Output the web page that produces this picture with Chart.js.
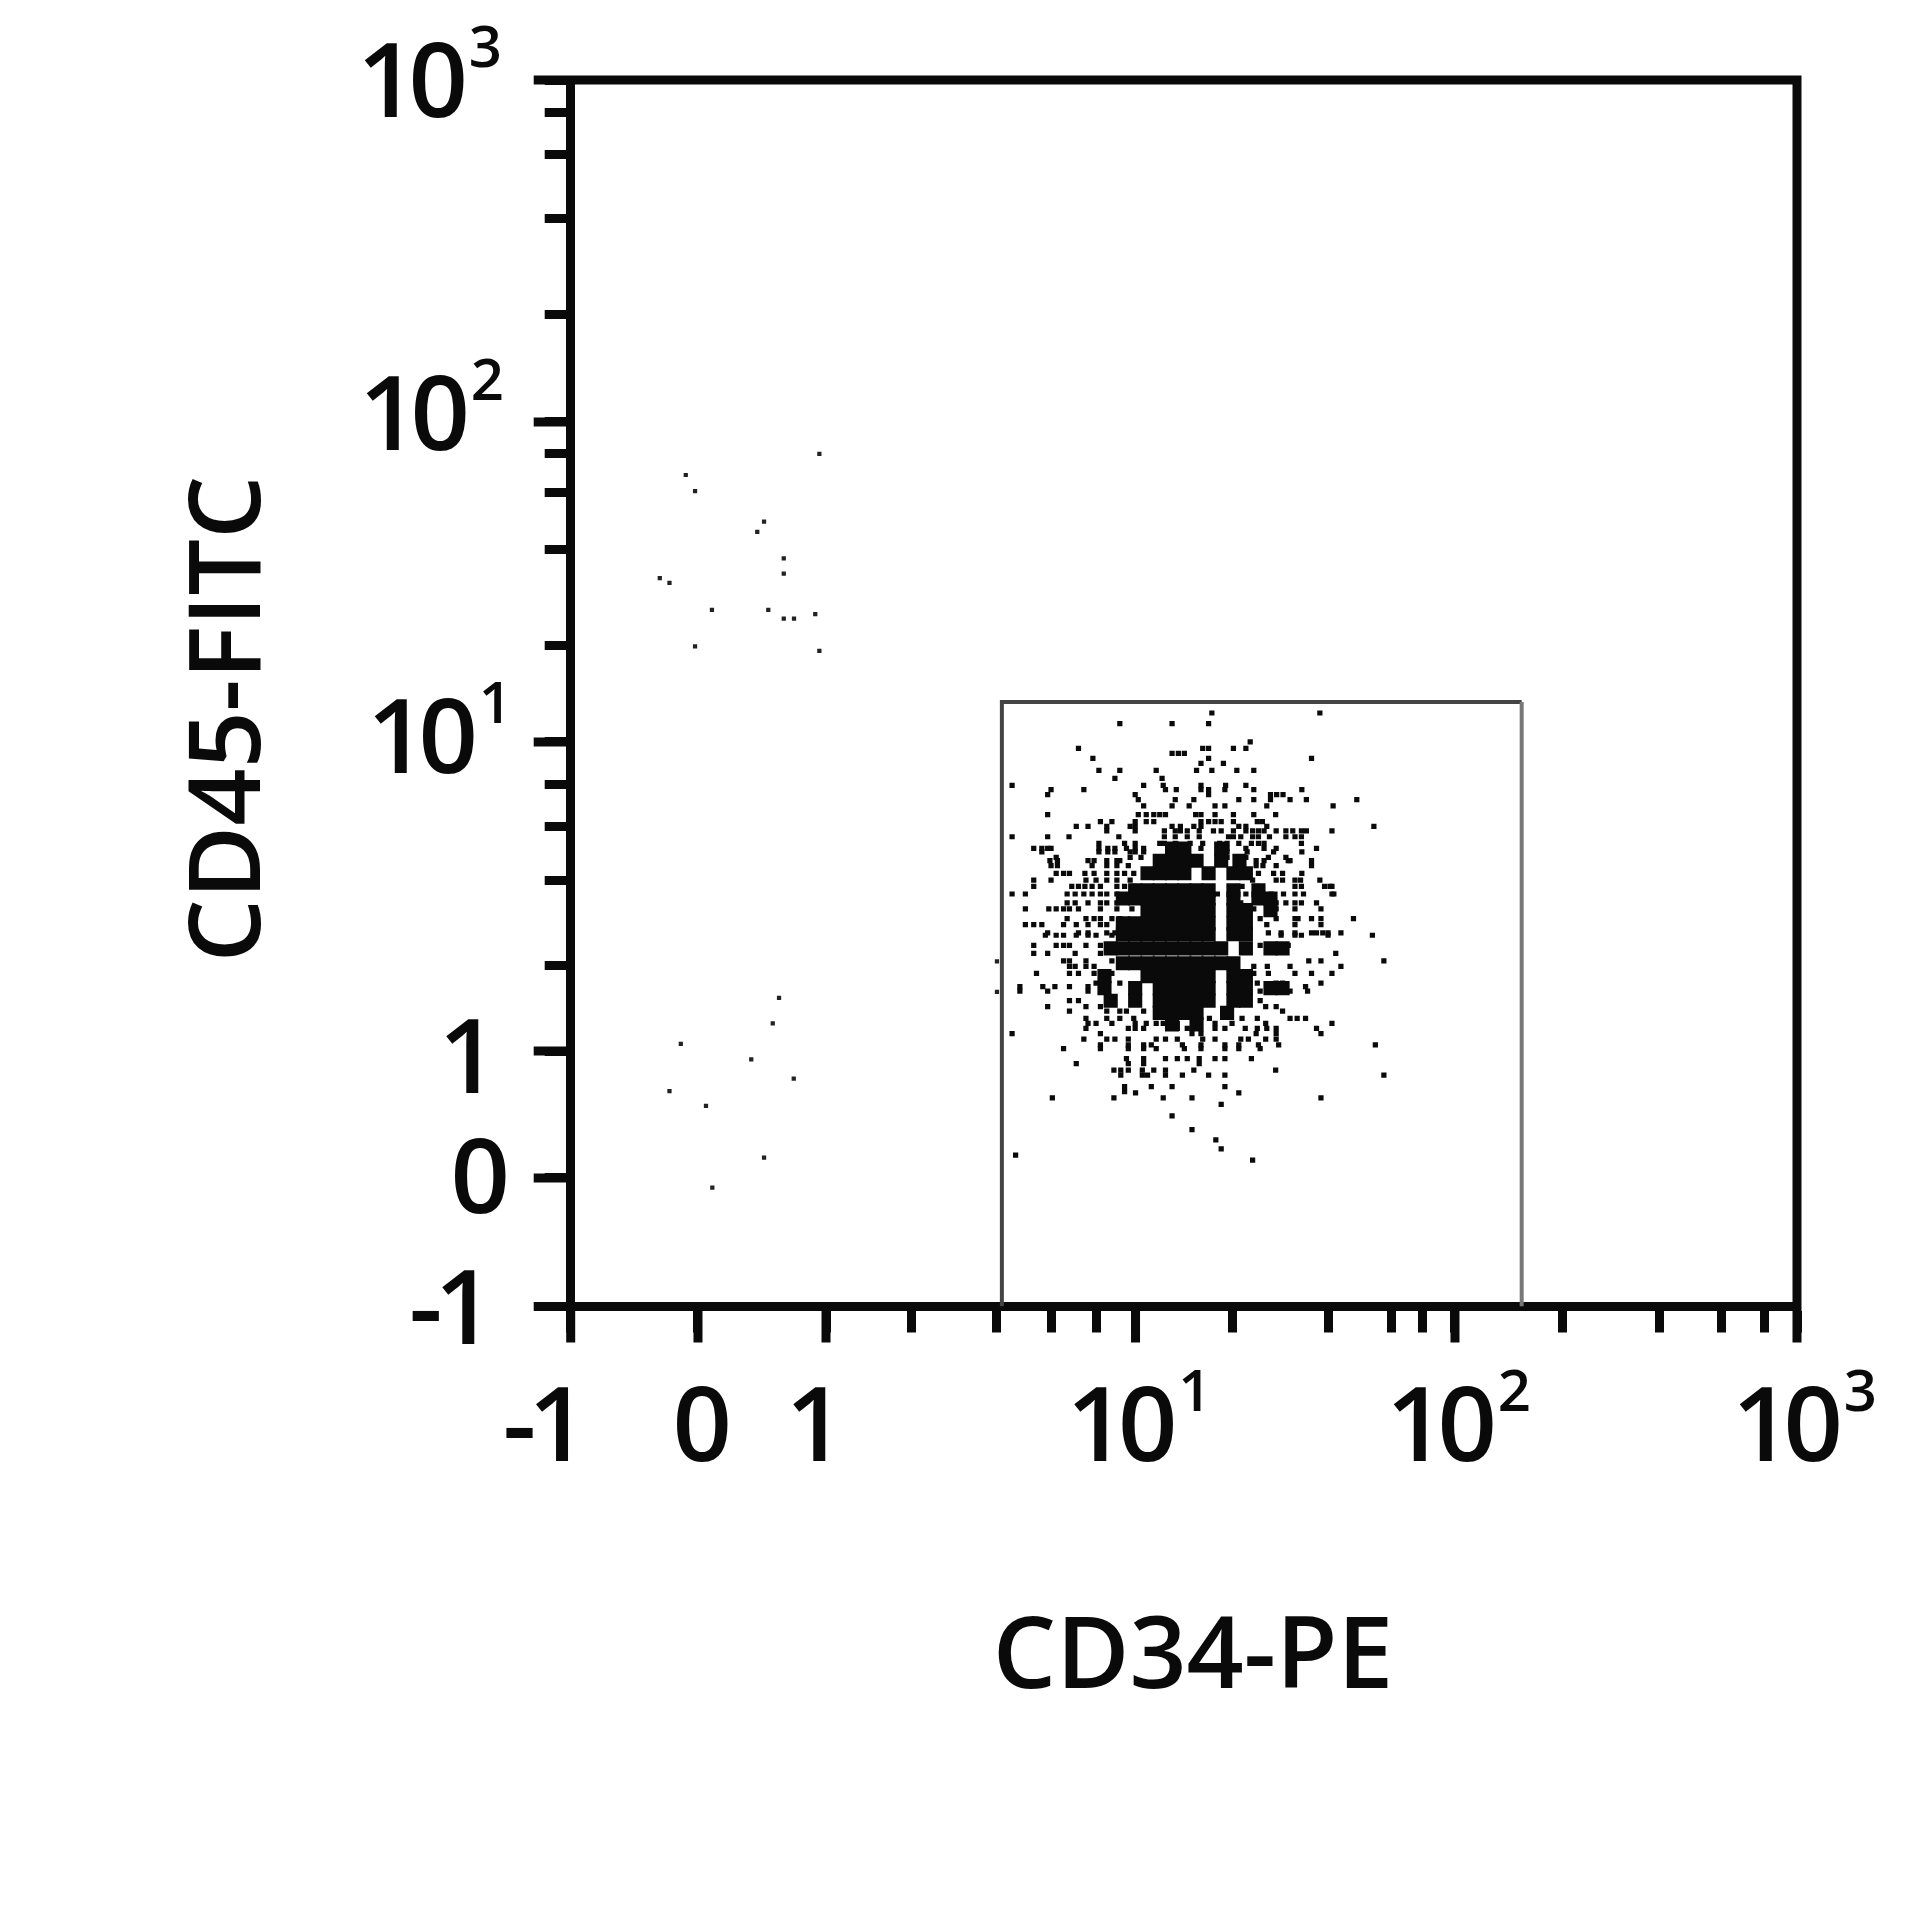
<!DOCTYPE html>
<html>
<head>
<meta charset="utf-8">
<script src="https://cdn.jsdelivr.net/npm/chart.js@4"></script>
<style>
  body { margin: 0; background: #fff; }
  canvas { display: block; filter: blur(0.7px); }
</style>
</head>
<body>
<canvas id="dot-plot" width="1920" height="1920"></canvas>
<script>
// axis ticks
const majorTicks = [-1, 0, 1, 10, 100, 1000];
const minorTicks = [2, 4, 6, 8, 20, 40, 60, 80, 200, 400, 600, 800];
const tickText = ["-1", "0", "1", "10", "10", "10"];
const tickPower = ["", "", "", "1", "2", "3"];
const xTitle = "CD34-PE";
const yTitle = "CD45-FITC";

// gate drawn round the CD34 population
const gateX = [4.15, 4.15, 154, 154];
const gateY = [-1, 13.3, 13.3, -1];

// scattered events outside the gate
const strayX = [-0.096, -0.023, 0.516, 0.463, 0.67, 0.67, -0.30, -0.224, 0.109, 0.549, 0.67, 0.75, 0.916, 0.948, -0.023, 0.948,
    0.633, 0.584, -0.135, 0.416, 0.748, -0.224, 0.0625, 0.516, 0.112, 4.0, 4.0];
const strayY = [68.5, 60.8, 48.8, 45.3, 37.4, 33.5, 32.4, 31.3, 25.8, 25.8, 24.2, 24.2, 25, 80, 19.8, 19.2,
    1.535, 1.25, 1.06, 0.935, 0.782, 0.685, 0.567, 0.16, -0.076, 2.06, 1.61];

// gated events, one row of CD34 values for each CD45 level
const rowY = [12.3, 11.4, 10.0, 9.67, 9.41, 9.17, 8.93, 8.6, 8.24, 7.93, 7.7, 7.45, 7.2, 6.9, 6.5, 6.2, 6.0, 5.8, 5.55, 5.28,
    5.08, 4.95, 4.75, 4.63, 4.46, 4.21, 4.0, 3.8, 3.57, 3.32, 3.16, 2.92, 2.78, 2.6, 2.55, 2.35, 2.20, 2.07, 1.98, 1.87,
    1.73, 1.68, 1.62, 1.50, 1.43, 1.38, 1.30, 1.25, 1.20, 1.15, 1.10, 1.05, 1.02, 0.94, 0.90, 0.85, 0.81, 0.72, 0.68, 0.67,
    0.63, 0.58, 0.49, 0.38, 0.30, 0.23, 0.14, 0.18];
const rowX = [
    [17.3, 37.7],
    [9.15, 13.0, 16.9],
    [22.8],
    [7.15, 16.2, 16.9, 20.2, 22.1],
    [13.0, 13.6, 14.2],
    [7.84, 16.9, 35.5],
    [16.0, 18.8],
    [8.13, 9.15, 11.6, 15.5, 17.3, 20.7, 23.4],
    [8.9, 12.1],
    [4.48, 10.6, 12.2, 16.0, 19.1, 22.1],
    [6.0, 7.4, 12.4, 13.4, 16.0, 16.9, 19.0, 23.4, 33.1],
    [5.85, 9.98, 16.9, 26.4, 27.6, 28.9],
    [10.2, 13.3, 15.2, 21.0, 23.4, 26.4, 30.4, 34.2, 48],
    [10.6, 13.0, 14.7, 17.7, 19.0, 25.7, 41.3],
    [5.85, 10.2, 10.8, 11.4, 11.9, 12.4, 15.4, 16.0, 17.7, 20.2, 23.4, 27.4],
    [8.2, 8.75, 9.98, 10.8, 11.4, 16.0, 16.9, 17.7, 18.5, 20.2, 24, 24.9],
    [7.05, 7.6, 8.5, 9.7, 9.98, 13.0, 13.8, 15.2, 16.0, 21.0, 22.1, 25.7, 53.5],
    [8.5, 9.98, 12.3, 13.3, 13.8, 14.5, 15.8, 17.5, 18.5, 20.2, 22.1, 23.2, 24.2, 25.2, 27.5, 29.5, 31, 33, 34.2, 41],
    [4.48, 5.85, 6.73, 9.1, 12.3, 13.3, 14.5, 15.8, 19.5, 20.2, 21.3, 23.2, 24.2, 26.2, 29.5, 31.5, 33],
    [8.13, 9.4, 9.98, 11.9, 12.3, 13.3, 14.8, 16.2, 18.3, 19.3, 21, 23, 24.2, 25.2, 33],
    [5.27, 5.6, 5.85, 6.0, 8.13, 8.55, 8.9, 9.5, 9.98, 10.6, 16, 19.3, 22.1, 25.2, 27.5, 36.8],
    [5.6, 8.13, 8.55, 8.9, 9.7, 9.98, 10.6, 19.3, 22.3, 27, 33.1],
    [6.2, 9.7, 10.4, 19.3, 22.1, 26, 29.5],
    [5.95, 6.25, 7.6, 7.9, 8.5, 9, 9.15, 23.8, 25.2, 30, 30.4, 35.5],
    [6.0, 6.25, 7.8, 8.5, 9, 9.6, 23.8, 25, 27.5, 35.5],
    [6.2, 6.5, 6.75, 7.45, 7.9, 8.5, 9, 9.4, 9.9, 24.2, 27, 28.8, 33.1],
    [5.27, 6.0, 7.5, 8, 8.5, 9, 9.7, 23.2, 27.5, 28.8, 31.5, 32.8, 37.7],
    [5.27, 6.85, 7.15, 7.45, 7.8, 8.2, 9, 9.4, 9.9, 21.5, 24, 31.5, 33, 39, 40.5, 41],
    [4.48, 4.95, 6.65, 7, 7.4, 7.8, 8.2, 8.5, 9, 18, 22.1, 26.5, 29, 31.5, 33.5, 41, 41.5],
    [6.65, 7, 7.6, 8.2, 8.5, 9, 21.3, 27.5, 29.5, 31.5, 33, 36.8],
    [4.95, 5.9, 6.2, 6.5, 6.75, 7.15, 8.2, 9, 9.8, 23.4, 27.5, 31.5, 38],
    [6.65, 7.5, 7.9, 8.2, 8.75, 9.15, 24.5, 27.5, 31.5, 32.2, 35.5, 38, 47],
    [4.95, 5.27, 5.6, 6.5, 7.05, 7.6, 8.2, 8.5, 25.7, 31.5, 38],
    [5.85, 7.15, 7.6, 8.5, 8.9, 26, 28.5, 31.5, 35.5, 36.8, 38.5, 40, 43.4],
    [5.75, 6.2, 6.5, 7.05, 7.6, 8, 8.75, 28.5, 31.5, 33, 40, 53],
    [5.27, 6.2, 6.5, 6.75, 7.5, 8.2, 24.5, 30],
    [5.27, 5.85, 7, 8.2, 42],
    [6.5, 6.75, 7.5, 8.75, 34.8, 38, 57],
    [6.75, 7, 7.5, 7.9, 23.4, 25.8, 30.4, 43.4],
    [5.38, 6.75, 7.15, 7.9, 8.75, 23.4, 26, 31.5, 35.5, 41],
    [8, 9.15, 24, 27.5, 28.8, 38],
    [4.75, 5.64, 6.15, 6.75, 7.6, 34],
    [4.75, 5.85, 7.6, 24.5, 30.4, 34.5],
    [6.75, 7.15, 8.75, 24.5],
    [5.85, 7.5, 8.2, 25.5, 27.5],
    [6.75, 8.5, 9.15, 9.5, 10.6, 28.8],
    [7.5, 8.5, 9.15, 9.9, 17, 21.5, 24, 30.4, 32, 34],
    [7.6, 8, 8.75, 9.98, 10.8, 11.6, 12.2, 13.5, 17.7, 20, 25.5, 41],
    [7.5, 9.6, 9.98, 10.6, 13.5, 14.5, 17.7, 19, 22, 24, 25.7, 27.5, 36.8],
    [4.48, 8.2, 15, 16, 23.8, 27.5, 38],
    [7.4, 8.5, 8.9, 9.6, 11.6, 12.4, 13.5, 16.2, 17.7, 21.3, 22.5, 25.5, 27.5],
    [8.2, 9.6, 10.6, 11.2, 14, 16, 19, 21, 24.2, 28, 54],
    [6.5, 8.2, 9.6, 10.6, 11.6, 14.2, 16, 19, 21, 24.5],
    [9.5, 10.6, 12.4, 13.5, 14.5, 15.8, 17.7, 19, 23],
    [7.05, 9.6, 10.6, 15.8],
    [8.85, 9.2, 9.6, 10.5, 11.4, 12.4, 15.2, 27.4],
    [9.2, 10.5, 10.9, 12.4, 14, 16.9, 19, 57],
    [9.4, 11.2, 13, 19],
    [9.4],
    [10, 21],
    [6.05, 8.85, 12.2, 15, 38],
    [18.5],
    [13],
    [15],
    [17.8],
    [18.5],
    [23.2],
    [4.6]
];

// solid centre of the population, same layout but coarser
const coreY = [5.08, 4.63, 4.21, 3.68, 3.44, 3.13, 2.81, 2.57, 2.29, 2.03, 1.83, 1.66, 1.50, 1.36, 1.24];
const coreX = [
    [13.0, 14.2, 18.5],
    [11.9, 13.0, 14.2, 15.5, 18.5, 21.1],
    [10.9, 11.9, 13.0, 14.2, 16.9, 20.2, 22.1],
    [9.98, 10.9, 11.9, 13.0, 14.2, 15.5, 16.9, 20.2, 24.2],
    [9.31, 9.98, 10.9, 11.9, 13.0, 14.2, 15.5, 16.9, 20.2, 24.2, 26.4],
    [10.9, 11.9, 13.0, 14.2, 15.5, 16.9, 20.2, 22.1, 26.4],
    [9.31, 9.98, 10.9, 11.9, 13.0, 14.2, 15.5, 16.9, 20.2, 22.1],
    [9.31, 9.98, 10.9, 11.9, 13.0, 14.2, 15.5, 16.9, 20.2, 22.1],
    [8.69, 9.31, 9.98, 10.9, 11.9, 13.0, 14.2, 15.5, 16.9, 18.5, 22.1, 26.4, 28.8],
    [9.31, 9.98, 10.9, 11.9, 13.0, 14.2, 15.5, 16.9, 18.5, 20.2],
    [8.39, 10.9, 11.9, 13.0, 14.2, 15.5, 16.9, 20.2, 22.1],
    [8.39, 9.98, 11.9, 13.0, 14.2, 15.5, 16.9, 20.2, 22.1, 26.4, 28.8],
    [8.69, 9.98, 11.9, 13.0, 14.2, 15.5, 16.9, 20.2, 22.1],
    [11.9, 13.0, 14.2, 15.5, 19.3],
    [13.0, 15.5]
];

// where the labelled values sit along an axis, as a share of its length
const axisStops = [-1, 0, 1, 2, 4, 6, 8, 10, 20, 40, 60, 80, 100, 200, 400, 600, 800, 1000];
const xStopShare = [0, .1038, .2082, .2780, .3476, .3917, .4284, .4606, .5393, .6176, .6697, .6950, .7211, .8084, .8875, .9388, .9739, 1];
const yStopShare = [0, .1048, .2083, .2784, .3477, .3914, .4260, .4603, .5393, .6176, .6633, .6951, .7212, .8084, .8867, .9389, .9739, 1];

const inkColor = "#0a0a0a";
const labelFont = '600 104px "Open Sans"';
const powerFont = '600 58px "Open Sans"';
const titleFont = '600 100px "Open Sans"';

// linear below 1, log above, bent to the stops
const bend = v => (v <= 1 ? v : 1 + Math.log10(v));

class BiexScale extends Chart.LinearScale {
    buildTicks() {
        return majorTicks.concat(minorTicks).map(value => ({ value }));
    }
    getPixelForValue(value) {
        const shares = this.options.stopShare;
        const t = bend(value);
        let i = 0;
        while (i < axisStops.length - 2 && t > bend(axisStops[i + 1])) i++;
        const a = bend(axisStops[i]);
        const b = bend(axisStops[i + 1]);
        const share = shares[i] + (t - a) / (b - a) * (shares[i + 1] - shares[i]);
        return this.getPixelForDecimal(share);
    }
}
BiexScale.id = "biex";
BiexScale.defaults = {};
Chart.register(BiexScale);

// Chart.js has one tick length per axis, so the frame, the longer ticks and
// the labels with raised powers are added here
const axisExtras = {
    id: "axisExtras",
    afterDraw(chart) {
        const { ctx, chartArea: area, scales: { x, y } } = chart;
        ctx.save();
        ctx.strokeStyle = inkColor;
        ctx.fillStyle = inkColor;
        ctx.lineWidth = 9;
        ctx.beginPath();
        ctx.moveTo(area.left - 4.5, area.top);
        ctx.lineTo(area.right, area.top);
        ctx.lineTo(area.right, area.bottom + 36);
        majorTicks.forEach(v => {
            ctx.moveTo(x.getPixelForValue(v), area.bottom);
            ctx.lineTo(x.getPixelForValue(v), area.bottom + 36);
            ctx.moveTo(area.left, y.getPixelForValue(v));
            ctx.lineTo(area.left - 37, y.getPixelForValue(v));
        });
        ctx.stroke();

        const xEdge = [9, 26, 11, 34, 34, 38];
        const yEdge = [486, 502, 490, 470, 462, 460];
        const yDrop = [37, 35, 42, 31, 28, 37];
        ctx.textAlign = "right";
        ctx.textBaseline = "alphabetic";
        majorTicks.forEach((v, i) => {
            const xRight = x.getPixelForValue(v) + xEdge[i];
            const yBase = y.getPixelForValue(v) + yDrop[i];
            drawTick(ctx, tickText[i], tickPower[i], xRight, 1461);
            drawTick(ctx, tickText[i], tickPower[i], yEdge[i], yBase);
        });

        ctx.font = titleFont;
        ctx.textAlign = "center";
        ctx.textBaseline = "alphabetic";
        ctx.fillText(xTitle, 1193, 1688);
        ctx.translate(260, 719);
        ctx.rotate(-Math.PI / 2);
        ctx.fillText(yTitle, 0, 0);
        ctx.restore();
    }
};

function drawTick(ctx, text, power, right, base) {
    ctx.font = labelFont;
    ctx.letterSpacing = "-8px";
    ctx.fillText(text, right, base);
    ctx.letterSpacing = "0px";
    if (power) {
        ctx.font = powerFont;
        ctx.fillText(power, right + 42, base - 50);
    }
}

const toPoints = (xs, ys) => xs.map((x, i) => ({ x, y: ys[i] }));
const rowPoints = (rowsX, rowsY) => rowsX.flatMap((xs, i) => xs.map(x => ({ x, y: rowsY[i] })));

const axisBase = {
    type: "biex",
    min: -1,
    max: 1000,
    ticks: { display: false, autoSkip: false },
    grid: { drawOnChartArea: false, tickLength: 26, tickWidth: 9, tickColor: inkColor },
    border: { display: true, width: 9, color: inkColor }
};

new Chart(document.getElementById("dot-plot"), {
    type: "scatter",
    data: {
        datasets: [
            {
                label: "gate",
                data: toPoints(gateX, gateY),
                showLine: true,
                pointRadius: 0,
                borderWidth: 4,
                borderColor: "#444",
                segment: { borderColor: c => (c.p0DataIndex === 2 ? "#777" : "#444") }
            },
            {
                label: "stray",
                data: toPoints(strayX, strayY),
                pointStyle: "rect",
                pointRadius: 3,
                pointBorderWidth: 0,
                backgroundColor: "#222"
            },
            {
                label: "gated",
                data: rowPoints(rowX, rowY),
                pointStyle: "rect",
                pointRadius: 3.7,
                pointBorderWidth: 0,
                backgroundColor: inkColor
            },
            {
                label: "core",
                data: rowPoints(coreX, coreY),
                pointStyle: "rect",
                pointRadius: 10,
                pointBorderWidth: 0,
                backgroundColor: inkColor
            }
        ]
    },
    options: {
        responsive: false,
        devicePixelRatio: 1,
        animation: false,
        layout: { padding: { left: 544.7, right: 123, top: 80, bottom: 587.5 } },
        plugins: { legend: { display: false }, tooltip: { enabled: false } },
        scales: {
            x: { ...axisBase, stopShare: xStopShare },
            y: { ...axisBase, stopShare: yStopShare }
        }
    },
    plugins: [axisExtras]
});
</script>
</body>
</html>
